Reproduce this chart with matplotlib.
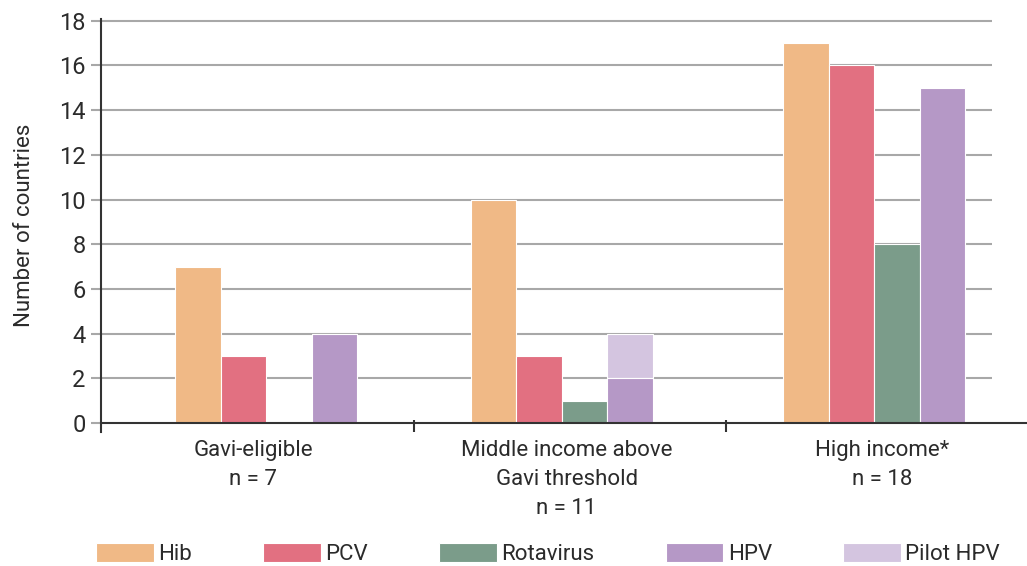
import matplotlib
matplotlib.use("Agg")
import matplotlib.pyplot as plt
import numpy as np

# data
groups = ["Gavi-eligible\nn = 7",
          "Middle income above\nGavi threshold\nn = 11",
          "High income*\nn = 18"]
hib = [7, 10, 17]
pcv = [3, 3, 16]
rotavirus = [0, 1, 8]
hpv = [4, 2, 15]
pilot_hpv = [0, 2, 0]

series = ["Hib", "PCV", "Rotavirus", "HPV"]
colors = {"Hib": "#F0B986", "PCV": "#E27081", "Rotavirus": "#7B9C8A",
          "HPV": "#B598C6", "Pilot HPV": "#D4C5E0"}
text_color = "#2b2b2b"

plt.rcParams['font.family'] = ['Roboto', 'DejaVu Sans']
plt.rcParams['font.size'] = 16

fig = plt.figure(figsize=(10.27, 5.66), dpi=100)
ax = fig.add_axes([101 / 1027, 1 - 432 / 566, 1 - 101 / 1027, (432 - 19) / 566])

group_x = np.array([0.028, 0.975, 1.974])
label_x = [-0.013, 0.99, 2.0]
w = 0.1456
vals = [hib, pcv, rotavirus, hpv]
for i, (name, v) in enumerate(zip(series, vals)):
    ax.bar(group_x + (i - 1.5) * w, v, w, color=colors[name],
           edgecolor="white", linewidth=0.8, label=name, zorder=3)
ax.bar(group_x + 1.5 * w, pilot_hpv, w, bottom=hpv, color=colors["Pilot HPV"],
       edgecolor="white", linewidth=0.8, label="Pilot HPV", zorder=2)

ax.set_xlim(-0.5, 2.463)
ax.set_ylim(-0.4, 18.08)
yticks = np.arange(0, 19, 2)
ax.set_yticks(yticks)
ax.hlines(yticks[1:], -0.5, 2.35, color="#a8a8a8", lw=1.5, zorder=1)
ax.axhline(0, color="#333333", lw=1.5, zorder=4)

for s in ["top", "right", "bottom"]:
    ax.spines[s].set_visible(False)
ax.spines["left"].set_color("#333333")
ax.spines["left"].set_linewidth(1.5)
ax.tick_params(axis="y", direction="out", length=7, width=1.5,
               color="#a8a8a8", labelcolor=text_color, pad=4, labelsize=17)
ax.set_xticks([])
ax.set_xticks([0.5, 1.5], minor=True)
ax.tick_params(axis="x", which="minor", direction="in", length=9, width=1.5,
               color="#333333")

for x, lab in zip(label_x, groups):
    ax.text(x, -0.75, lab, ha="center", va="top", fontsize=16,
            color=text_color, linespacing=1.5)

ax.set_ylabel("Number of countries", fontsize=16, color=text_color)
ax.yaxis.set_label_coords(-0.071, 0.5)

fig.legend(loc="center left", bbox_to_anchor=(96 / 1027, 1 - 554 / 566),
           ncol=5, frameon=False, fontsize=16, handlelength=2.6,
           handleheight=0.9, handletextpad=0.2, columnspacing=3.2,
           borderpad=0, borderaxespad=0, labelcolor=text_color)

fig.savefig("out.png", dpi=100)
